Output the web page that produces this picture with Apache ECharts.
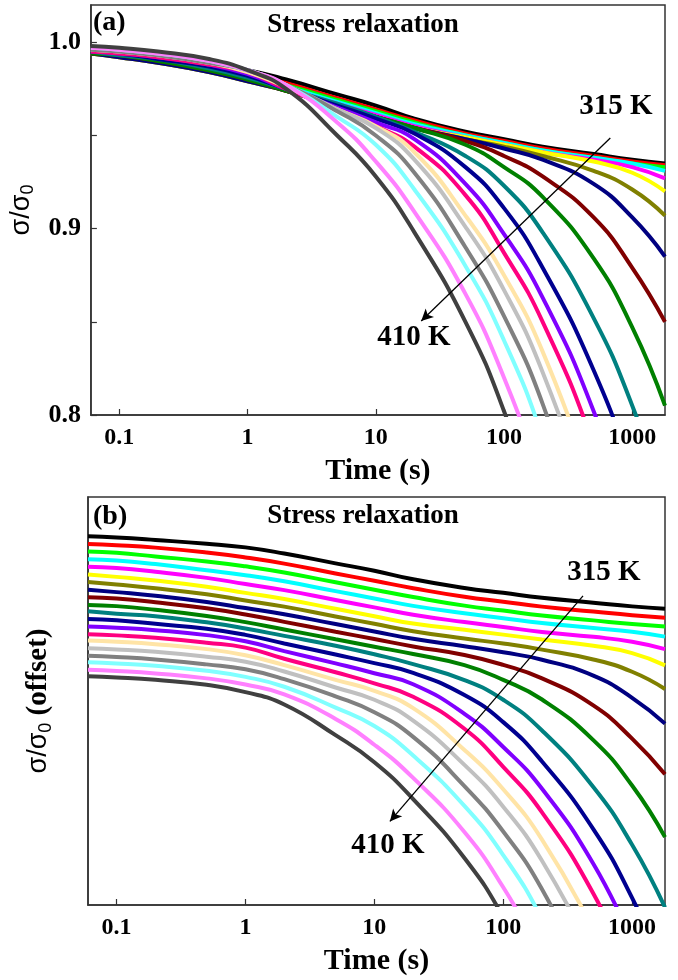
<!DOCTYPE html>
<html><head><meta charset="utf-8">
<script src="https://cdn.jsdelivr.net/npm/echarts@6/dist/echarts.min.js"></script>
<style>html,body{margin:0;padding:0;background:#fff}#c{width:678px;height:980px}</style>
</head><body><div id="c"></div>
<script>
// ---- data ----
const times = [0.06, 0.1, 0.2, 0.5, 1, 2, 5, 10, 20, 50, 100, 200, 500, 1000, 1800];
const temperatures = [315, 320, 325, 330, 335, 340, 345, 350, 355, 360, 365, 370, 375, 380, 385, 390, 395, 400, 405, 410];
const k315 = [0.994, 0.993, 0.991, 0.988, 0.985, 0.980, 0.972, 0.966, 0.959, 0.952, 0.948, 0.944, 0.940, 0.937, 0.935];
const k320 = [0.994, 0.993, 0.991, 0.987, 0.983, 0.978, 0.970, 0.964, 0.958, 0.951, 0.947, 0.943, 0.939, 0.936, 0.934];
const k325 = [0.994, 0.993, 0.990, 0.986, 0.982, 0.977, 0.969, 0.963, 0.957, 0.950, 0.946, 0.942, 0.938, 0.935, 0.933];
const k330 = [0.994, 0.993, 0.990, 0.985, 0.981, 0.976, 0.968, 0.962, 0.956, 0.950, 0.946, 0.942, 0.938, 0.935, 0.931];
const k335 = [0.994, 0.993, 0.990, 0.985, 0.980, 0.975, 0.967, 0.961, 0.955, 0.949, 0.945, 0.941, 0.937, 0.933, 0.927];
const k340 = [0.994, 0.992, 0.989, 0.984, 0.979, 0.974, 0.966, 0.960, 0.954, 0.949, 0.945, 0.941, 0.936, 0.930, 0.920];
const k345 = [0.994, 0.992, 0.989, 0.984, 0.979, 0.974, 0.966, 0.960, 0.954, 0.948, 0.944, 0.939, 0.931, 0.921, 0.907];
const k350 = [0.994, 0.992, 0.989, 0.984, 0.979, 0.974, 0.966, 0.960, 0.954, 0.948, 0.943, 0.937, 0.924, 0.906, 0.885];
const k355 = [0.994, 0.993, 0.990, 0.985, 0.980, 0.974, 0.966, 0.960, 0.954, 0.947, 0.939, 0.928, 0.906, 0.879, 0.850];
const k360 = [0.994, 0.993, 0.990, 0.985, 0.980, 0.974, 0.966, 0.960, 0.954, 0.945, 0.933, 0.917, 0.884, 0.847, 0.805];
const k365 = [0.995, 0.993, 0.991, 0.986, 0.981, 0.975, 0.967, 0.960, 0.952, 0.939, 0.923, 0.898, 0.852, 0.805, 0.754];
const k370 = [0.995, 0.994, 0.991, 0.987, 0.982, 0.975, 0.966, 0.959, 0.951, 0.933, 0.911, 0.879, 0.824, 0.768, 0.708];
const k375 = [0.995, 0.994, 0.992, 0.988, 0.983, 0.975, 0.965, 0.957, 0.948, 0.924, 0.897, 0.863, 0.802, 0.739, null];
const k380 = [0.995, 0.994, 0.992, 0.988, 0.984, 0.975, 0.964, 0.955, 0.944, 0.918, 0.887, 0.850, 0.784, 0.717, null];
const k385 = [0.996, 0.995, 0.993, 0.989, 0.984, 0.976, 0.964, 0.955, 0.941, 0.907, 0.875, 0.834, 0.761, null, null];
const k390 = [0.996, 0.995, 0.993, 0.989, 0.985, 0.977, 0.964, 0.954, 0.937, 0.901, 0.867, 0.823, 0.746, null, null];
const k395 = [0.996, 0.995, 0.993, 0.989, 0.985, 0.977, 0.963, 0.950, 0.930, 0.890, 0.853, 0.806, 0.722, null, null];
const k400 = [0.997, 0.996, 0.994, 0.990, 0.985, 0.977, 0.960, 0.945, 0.921, 0.880, 0.840, 0.788, 0.700, null, null];
const k405 = [0.997, 0.996, 0.994, 0.990, 0.985, 0.977, 0.957, 0.936, 0.909, 0.865, 0.820, 0.764, null, null, null];
const k410 = [0.998, 0.997, 0.995, 0.991, 0.985, 0.975, 0.950, 0.928, 0.898, 0.850, 0.802, 0.739, null, null, null];
// vertical offsets used in panel (b)
const offsets = [0, -0.0062, -0.0124, -0.0186, -0.0248, -0.0310, -0.0372, -0.0434, -0.0496, -0.0558,
                 -0.0620, -0.0682, -0.0744, -0.0806, -0.0868, -0.0930, -0.0992, -0.1054, -0.1116, -0.1178];
const colors = ['#000000', '#FF0000', '#00FF00', '#00FFFF', '#FF00FF', '#FFFF00', '#808000', '#000080', '#800000', '#008000',
                '#008080', '#000090', '#8000FF', '#FF0080', '#FFE4A6', '#C0C0C0', '#808080', '#80FFFF', '#FF80FF', '#404040'];
const curves = [k315, k320, k325, k330, k335, k340, k345, k350, k355, k360,
                k365, k370, k375, k380, k385, k390, k395, k400, k405, k410];
const yTicksA = [0.8, 0.9, 1.0];
// arrow annotations in data coordinates [time, value]
const arrowA = [[674, 0.9486], [22.6, 0.8504]];
const arrowB = [[416, 0.9456], [13.2, 0.7620]];

// ---- chart ----
const serif = '"Liberation Serif", "Times New Roman", serif';
const sans = '"Liberation Sans", Arial, sans-serif';
const frame = '#333';

function xAxisCfg(gi) {
  return {
    type: 'log', logBase: 10, gridIndex: gi, min: 0.06, max: 1800,
    name: 'Time (s)', nameLocation: 'middle', nameGap: 41,
    nameTextStyle: { fontFamily: serif, fontWeight: 'bold', fontSize: 30, color: '#000' },
    axisLine: { lineStyle: { color: frame, width: 1.5 } },
    axisTick: { inside: true, length: 6, lineStyle: { color: frame, width: 1.2 } },
    axisLabel: { showMinLabel: false, showMaxLabel: false, margin: 11,
      fontFamily: serif, fontWeight: 'bold', fontSize: 24, color: '#000',
      formatter: v => String(Number(Number(v).toPrecision(6))) },
    splitLine: { show: false }, minorTick: { show: false }
  };
}

const series = [];
curves.forEach((arr, i) => {
  const dA = [], dB = [];
  times.forEach((t, j) => {
    if (arr[j] !== null) {
      dA.push([t, arr[j]]);
      dB.push([t, +(arr[j] + offsets[i]).toFixed(4)]);
    }
  });
  const common = { type: 'line', name: temperatures[i] + ' K', symbol: 'none', smooth: 0.5,
    lineStyle: { color: colors[i], width: 4 }, itemStyle: { color: colors[i] }, animation: false, silent: true };
  series.push(Object.assign({}, common, { xAxisIndex: 0, yAxisIndex: 0, data: dA }));
  series.push(Object.assign({}, common, { xAxisIndex: 1, yAxisIndex: 1, data: dB }));
});
function arrowSeries(ax, ay, pts) {
  return { type: 'line', xAxisIndex: ax, yAxisIndex: ay, data: [], symbol: 'none', silent: true, animation: false, z: 10,
    markLine: { silent: true, animation: false, symbol: ['none', 'arrow'], symbolSize: [9, 12],
      label: { show: false }, lineStyle: { color: '#000', width: 1.3, type: 'solid' },
      data: [[{ coord: pts[0] }, { coord: pts[1] }]] } };
}
series.push(arrowSeries(0, 0, arrowA));
series.push(arrowSeries(1, 1, arrowB));

const txt = (x, y, text, size, align) => ({ type: 'text', x: x, y: y, z: 20, silent: true,
  style: { text: text, font: 'bold ' + size + 'px ' + serif, fill: '#000', align: align || 'center', verticalAlign: 'middle' } });

const option = {
  backgroundColor: '#fff',
  animation: false,
  grid: [
    { left: 88, top: 5, width: 577, height: 410, show: true, borderColor: frame, borderWidth: 1.5, backgroundColor: 'transparent' },
    { left: 88, top: 497, width: 577, height: 408, show: true, borderColor: frame, borderWidth: 1.5, backgroundColor: 'transparent' }
  ],
  xAxis: [xAxisCfg(0), xAxisCfg(1)],
  yAxis: [
    { type: 'value', gridIndex: 0, min: yTicksA[0], max: 1.02, interval: 0.05,
      name: '{s|σ/σ}{sub|0}', nameLocation: 'middle', nameGap: 43,
      nameTextStyle: { rich: { s: { fontFamily: sans, fontSize: 27, color: '#000', lineHeight: 32 },
                               sub: { fontFamily: sans, fontSize: 18, color: '#000', verticalAlign: 'bottom', lineHeight: 32 } } },
      axisLine: { show: true, lineStyle: { color: frame, width: 1.5 } },
      axisTick: { inside: true, length: 6, lineStyle: { color: frame, width: 1.2 } },
      axisLabel: { showMaxLabel: false, margin: 10, fontFamily: serif, fontWeight: 'bold', fontSize: 26, color: '#000',
        formatter: v => yTicksA.some(t => Math.abs(t - v) < 1e-6) ? v.toFixed(1) : '' },
      splitLine: { show: false } },
    { type: 'value', gridIndex: 1, min: 0.694, max: 1.026,
      name: '{s|σ/σ}{sub|0}{b| (offset)}', nameLocation: 'middle', nameGap: 33,
      nameTextStyle: { rich: { s: { fontFamily: sans, fontSize: 27, color: '#000', lineHeight: 32 },
                               sub: { fontFamily: sans, fontSize: 18, color: '#000', verticalAlign: 'bottom', lineHeight: 32 },
                               b: { fontFamily: serif, fontWeight: 'bold', fontSize: 29, color: '#000', lineHeight: 32 } } },
      axisLine: { show: true, lineStyle: { color: frame, width: 1.5 } },
      axisTick: { show: false }, axisLabel: { show: false }, splitLine: { show: false } }
  ],
  graphic: [
    txt(93, 23, '(a)', 28, 'left'),
    txt(363, 25, 'Stress relaxation', 27),
    txt(616, 107, '315 K', 29),
    txt(414, 338, '410 K', 29),
    txt(93, 517, '(b)', 28, 'left'),
    txt(363, 516, 'Stress relaxation', 27),
    txt(604, 573, '315 K', 29),
    txt(388, 846, '410 K', 29)
  ],
  series: series
};
const chart = echarts.init(document.getElementById('c'), null, { renderer: 'canvas' });
chart.setOption(option);
</script></body></html>
